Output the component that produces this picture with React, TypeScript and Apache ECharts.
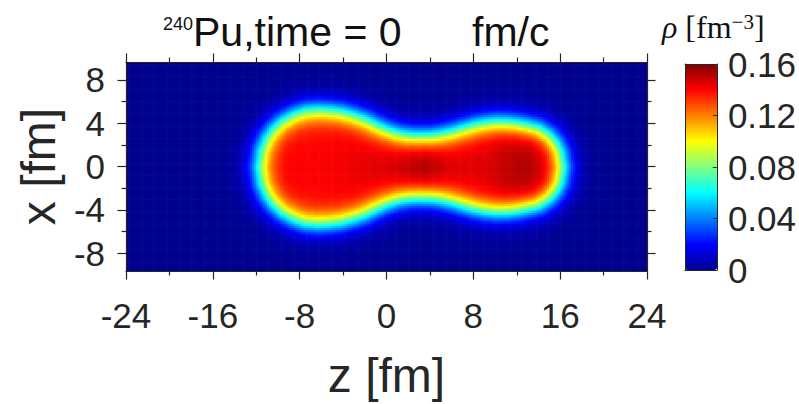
import React, { useEffect, useRef } from "react";
import * as echarts from "echarts";

// Half-density surface of the fissioning nucleus: radius R (fm) across the z axis
const profileZ = [-11.75, -11.5, -11.0, -10.5, -9.7, -8.6, -7.5, -6.4, -5.3, -4.2, -3.1, -2.0, -1.0, 0.0, 1.0, 2.0, 3.0, 4.0, 5.0, 6.0, 7.0, 8.0, 9.0, 10.0, 11.0, 12.0, 13.0, 14.0, 15.0, 15.6, 16.0, 16.25];
const profileR = [0, 1.6, 2.7, 3.4, 4.15, 4.8, 5.2, 5.3, 5.25, 5.1, 4.8, 4.4, 3.9, 3.45, 3.1, 2.9, 2.82, 2.85, 3.0, 3.25, 3.55, 3.85, 4.05, 4.15, 4.12, 4.0, 3.8, 3.55, 2.9, 2.2, 1.4, 0];

// Saturation density along the symmetry axis (fm^-3)
const coreZ = [-12, -9, -7, -5, -3, -1, 1, 2.5, 3.5, 4.5, 6, 8, 9.5, 11, 12.5, 14, 16];
const coreRho = [0.14, 0.142, 0.14, 0.141, 0.143, 0.145, 0.148, 0.152, 0.154, 0.151, 0.146, 0.145, 0.146, 0.15, 0.153, 0.152, 0.15];

// Surface diffuseness (fm)
const diffuseness = 0.64;

// Axis ranges and ticks
const zRange = [-24, 24];
const xRange = [-9.65, 9.65];
const xMajorTicks = [-8, -4, 0, 4, 8];
const xMinorTicks = [-6, -2, 2, 6];
const rhoRange = [0, 0.16];

// Cell counts of the density mesh
const NZ = 240;
const NX = 96;

const jet = ["#00008F", "#0000FF", "#0080FF", "#00FFFF", "#80FF80", "#FFFF00", "#FF8000", "#FF0000", "#800000"];

const INK = "#262626";
const SANS = "Liberation Sans, Arial, Helvetica, sans-serif";
const SERIF = "Liberation Serif, Times New Roman, serif";

function interp(xs: number[], ys: number[], v: number): number {
  if (v <= xs[0]) return ys[0];
  if (v >= xs[xs.length - 1]) return ys[ys.length - 1];
  for (let i = 0; i < xs.length - 1; i++) {
    if (v >= xs[i] && v <= xs[i + 1]) {
      const t = (v - xs[i]) / (xs[i + 1] - xs[i]);
      return ys[i] + t * (ys[i + 1] - ys[i]);
    }
  }
  return ys[ys.length - 1];
}

function segDist(px: number, py: number, ax: number, ay: number, bx: number, by: number): number {
  const dx = bx - ax;
  const dy = by - ay;
  const len2 = dx * dx + dy * dy;
  let t = len2 > 0 ? ((px - ax) * dx + (py - ay) * dy) / len2 : 0;
  t = Math.max(0, Math.min(1, t));
  const qx = ax + t * dx - px;
  const qy = ay + t * dy - py;
  return Math.sqrt(qx * qx + qy * qy);
}

function buildDensity(): number[][] {
  const dz = (zRange[1] - zRange[0]) / NZ;
  const dx = (xRange[1] - xRange[0]) / NX;
  const zL = profileZ[0];
  const zR = profileZ[profileZ.length - 1];
  const out: number[][] = [];
  for (let i = 0; i < NZ; i++) {
    const z = zRange[0] + (i + 0.5) * dz;
    const rho0 = interp(coreZ, coreRho, z);
    const rSurf = interp(profileZ, profileR, z);
    for (let j = 0; j < NX; j++) {
      const x = xRange[0] + (j + 0.5) * dx;
      const ax = Math.abs(x);
      let dmin = Infinity;
      for (let k = 0; k < profileZ.length - 1; k++) {
        const d = segDist(z, ax, profileZ[k], profileR[k], profileZ[k + 1], profileR[k + 1]);
        if (d < dmin) dmin = d;
      }
      const inside = z > zL && z < zR && ax < rSurf;
      const sd = inside ? -dmin : dmin;
      const rho = rho0 / (1 + Math.exp(sd / diffuseness));
      out.push([z, x, Math.round(rho * 1e5) / 1e5]);
    }
  }
  return out;
}

export default function App() {
  const ref = useRef<HTMLDivElement>(null);

  useEffect(() => {
    if (!ref.current) return;
    const chart = echarts.init(ref.current, undefined, { renderer: "svg" });
    const data = buildDensity();
    const halfZ = (zRange[1] - zRange[0]) / NZ / 2;
    const halfX = (xRange[1] - xRange[0]) / NX / 2;

    const tickStyle = { color: INK, width: 1.2 };
    const lineStyle = { color: INK, width: 1.2 };

    const option: any = {
      animation: false,
      backgroundColor: "#ffffff",
      textStyle: { fontFamily: SANS },
      grid: [
        { left: 126, top: 62, width: 521, height: 209, containLabel: false },
        { left: 685, top: 64, width: 32, height: 206, containLabel: false },
      ],
      xAxis: [
        {
          gridIndex: 0, type: "value", position: "bottom", min: zRange[0], max: zRange[1], interval: 8, z: 10,
          axisLine: { show: true, onZero: false, lineStyle },
          axisTick: { show: true, inside: false, length: 8.5, lineStyle: tickStyle },
          minorTick: { show: true, splitNumber: 2, length: 4.5, lineStyle: tickStyle },
          splitLine: { show: false },
          axisLabel: { show: true, fontSize: 35, color: INK, margin: 27, fontFamily: SANS },
          name: "z [fm]", nameLocation: "middle", nameGap: 80,
          nameTextStyle: { fontSize: 48, color: INK, fontFamily: SANS },
        },
        {
          gridIndex: 0, type: "value", position: "top", min: zRange[0], max: zRange[1], interval: 8, z: 10,
          axisLine: { show: true, onZero: false, lineStyle },
          axisTick: { show: true, inside: false, length: 8.5, lineStyle: tickStyle },
          minorTick: { show: true, splitNumber: 2, length: 4.5, lineStyle: tickStyle },
          splitLine: { show: false },
          axisLabel: { show: false },
        },
        {
          gridIndex: 1, type: "value", position: "bottom", min: 0, max: 1, z: 10,
          axisLine: { show: true, onZero: false, lineStyle: { color: INK, width: 1 } },
          axisTick: { show: false }, axisLabel: { show: false }, splitLine: { show: false },
        },
        {
          gridIndex: 1, type: "value", position: "top", min: 0, max: 1, z: 10,
          axisLine: { show: true, onZero: false, lineStyle: { color: INK, width: 1 } },
          axisTick: { show: false }, axisLabel: { show: false }, splitLine: { show: false },
        },
      ],
      yAxis: [
        {
          gridIndex: 0, type: "value", position: "left", min: xRange[0], max: xRange[1], z: 10,
          axisLine: { show: true, onZero: false, lineStyle },
          axisTick: { show: true, inside: false, length: 8.5, lineStyle: tickStyle, customValues: xMajorTicks },
          splitLine: { show: false },
          axisLabel: { show: true, fontSize: 35, color: INK, margin: 21, fontFamily: SANS, customValues: xMajorTicks },
          name: "x [fm]", nameLocation: "middle", nameGap: 58, nameRotate: 90,
          nameTextStyle: { fontSize: 48, color: INK, fontFamily: SANS },
        },
        {
          gridIndex: 0, type: "value", position: "left", min: xRange[0], max: xRange[1], z: 10,
          axisLine: { show: false, onZero: false },
          axisTick: { show: true, inside: false, length: 4.5, lineStyle: tickStyle, customValues: xMinorTicks },
          splitLine: { show: false }, axisLabel: { show: false },
        },
        {
          gridIndex: 0, type: "value", position: "right", min: xRange[0], max: xRange[1], z: 10,
          axisLine: { show: true, onZero: false, lineStyle },
          axisTick: { show: true, inside: false, length: 8.5, lineStyle: tickStyle, customValues: xMajorTicks },
          splitLine: { show: false }, axisLabel: { show: false },
        },
        {
          gridIndex: 0, type: "value", position: "right", min: xRange[0], max: xRange[1], z: 10,
          axisLine: { show: false, onZero: false },
          axisTick: { show: true, inside: false, length: 4.5, lineStyle: tickStyle, customValues: xMinorTicks },
          splitLine: { show: false }, axisLabel: { show: false },
        },
        {
          gridIndex: 1, type: "value", position: "left", min: rhoRange[0], max: rhoRange[1], z: 10,
          axisLine: { show: true, onZero: false, lineStyle: { color: INK, width: 1 } },
          axisTick: { show: false }, axisLabel: { show: false }, splitLine: { show: false },
        },
        {
          gridIndex: 1, type: "value", position: "right", min: rhoRange[0], max: rhoRange[1], interval: 0.04, z: 10,
          axisLine: { show: true, onZero: false, lineStyle: { color: INK, width: 1 } },
          axisTick: { show: true, inside: true, length: 4, lineStyle: { color: INK, width: 1 } },
          splitLine: { show: false },
          axisLabel: {
            show: true, fontSize: 35, color: INK, margin: 11, fontFamily: SANS,
            formatter: (v: number) => (v === 0 ? "0" : v.toFixed(2)),
          },
        },
      ],
      visualMap: {
        type: "continuous",
        min: rhoRange[0],
        max: rhoRange[1],
        dimension: 2,
        seriesIndex: 0,
        calculable: false,
        realtime: false,
        hoverLink: false,
        orient: "vertical",
        left: 685,
        top: 64,
        itemWidth: 32,
        itemHeight: 206,
        padding: 0,
        inRange: { color: jet },
      },
      graphic: [
        {
          type: "text", x: 163, y: 24, z: 20,
          style: { text: "240", font: `18px ${SANS}`, fill: "#111", verticalAlign: "middle" },
        },
        {
          type: "text", x: 193, y: 32, z: 20,
          style: { text: "Pu,time = 0", font: `41px ${SANS}`, fill: "#111", verticalAlign: "middle" },
        },
        {
          type: "text", x: 472, y: 32, z: 20,
          style: { text: "fm/c", font: `41px ${SANS}`, fill: "#111", verticalAlign: "middle" },
        },
        {
          type: "text", x: 662, y: 27, z: 20,
          style: {
            text: "{i|ρ} {n|[fm}{s|−3}{n|]}",
            font: `32px ${SERIF}`,
            fill: "#111",
            verticalAlign: "middle",
            rich: {
              i: { fontFamily: SERIF, fontSize: 32, fontStyle: "italic", lineHeight: 32, verticalAlign: "bottom", fill: "#111" },
              n: { fontFamily: SERIF, fontSize: 32, lineHeight: 32, verticalAlign: "bottom", fill: "#111" },
              s: { fontFamily: SERIF, fontSize: 21, lineHeight: 20, verticalAlign: "top", fill: "#111" },
            },
          },
        },
      ],
      series: [
        {
          type: "custom",
          coordinateSystem: "cartesian2d",
          xAxisIndex: 0,
          yAxisIndex: 0,
          silent: true,
          clip: true,
          progressive: 0,
          dimensions: ["z", "x", "rho"],
          encode: { x: 0, y: 1 },
          data,
          renderItem: (_params: any, api: any) => {
            const z = api.value(0);
            const x = api.value(1);
            const p0 = api.coord([z - halfZ, x + halfX]);
            const p1 = api.coord([z + halfZ, x - halfX]);
            return {
              type: "rect",
              shape: { x: p0[0], y: p0[1], width: p1[0] - p0[0] + 0.6, height: p1[1] - p0[1] + 0.6 },
              style: { fill: api.visual("color") },
            };
          },
        },
      ],
    };

    chart.setOption(option);
    return () => chart.dispose();
  }, []);

  return (
    <div
      ref={ref}
      style={{ position: "absolute", left: 0, top: 0, width: 799, height: 404, background: "#fff" }}
    />
  );
}
